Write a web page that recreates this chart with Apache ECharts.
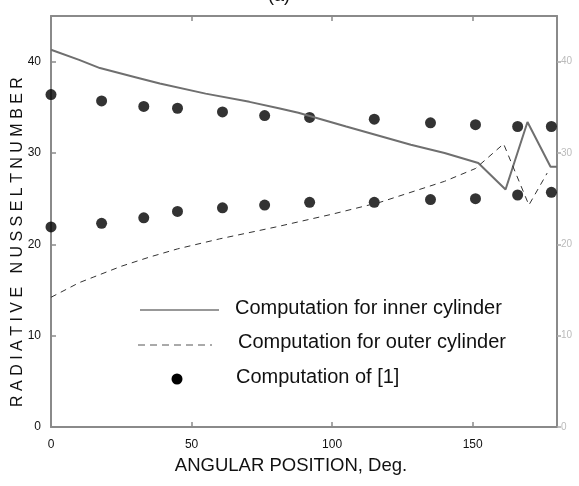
<!DOCTYPE html>
<html>
<head>
<meta charset="utf-8">
<script src="https://cdn.jsdelivr.net/npm/echarts@6/dist/echarts.min.js"></script>
<style>
  html, body { margin: 0; padding: 0; background: #fff; }
  #chart { width: 579px; height: 486px; }
</style>
</head>
<body>
<div id="chart"></div>
<script>
// Angular position (deg) and radiative Nusselt number values
const innerAngle = [0, 10, 17.4, 30, 38.7, 55, 70.6, 81, 88, 105, 128, 140, 152, 161.7, 169.5, 177.7, 180];
const innerNu    = [41.3, 40.2, 39.3, 38.3, 37.6, 36.5, 35.6, 34.9, 34.4, 32.9, 30.9, 30.0, 28.9, 26.0, 33.4, 28.5, 28.5];

const outerAngle = [0, 5, 10, 15, 25, 35, 45, 60, 80, 100, 117, 130, 140, 151, 161, 170, 176.5];
const outerNu    = [14.2, 15.0, 15.8, 16.4, 17.6, 18.6, 19.5, 20.6, 21.9, 23.3, 24.6, 25.9, 26.9, 28.3, 31.0, 24.3, 27.8];

const refAngle = [0, 18, 33, 45, 61, 76, 92, 115, 135, 151, 166, 178];
const refUpper = [36.4, 35.7, 35.1, 34.9, 34.5, 34.1, 33.9, 33.7, 33.3, 33.1, 32.9, 32.9];
const refLower = [21.9, 22.3, 22.9, 23.6, 24.0, 24.3, 24.6, 24.6, 24.9, 25.0, 25.4, 25.7];

const xTicks = [0, 50, 100, 150];
const yTicks = [0, 10, 20, 30, 40];

const legendInner = 'Computation for inner cylinder';
const legendOuter = 'Computation for outer cylinder';
const legendRef = 'Computation of [1]';
const xTitle = 'ANGULAR POSITION, Deg.';
const yTitle = 'RADIATIVE NUSSELTNUMBER';
const panelTitle = '(a)';

const pair = (xs, ys) => xs.map((x, i) => [x, ys[i]]);
const refData = pair(refAngle, refUpper).concat(pair(refAngle, refLower));

const FONT = 'Liberation Sans, Arial, sans-serif';
const AXIS_COLOR = '#8a8a8a';

const chart = echarts.init(document.getElementById('chart'), null, { renderer: 'canvas' });

const axisBase = {
  min: 0,
  axisLine: { show: true, onZero: false, lineStyle: { color: AXIS_COLOR, width: 2 } },
  axisTick: { show: true, inside: true, length: 5, lineStyle: { color: AXIS_COLOR, width: 1.5 } },
  splitLine: { show: false }
};

chart.setOption({
  animation: false,
  backgroundColor: '#fff',
  grid: { left: 51, right: 22, top: 16, bottom: 59 },
  xAxis: [
    Object.assign({}, axisBase, {
      type: 'value', position: 'bottom', max: 180, interval: 50,
      axisLabel: {
        showMaxLabel: false, margin: 12, fontSize: 12, fontFamily: FONT,
        color: v => (v === 0 ? '#999' : '#111'),
        formatter: v => (xTicks.indexOf(v) >= 0 ? String(v) : '')
      }
    }),
    Object.assign({}, axisBase, {
      type: 'value', position: 'top', max: 180, interval: 50,
      axisLabel: { show: false }
    })
  ],
  yAxis: [
    Object.assign({}, axisBase, {
      type: 'value', position: 'left', max: 45, interval: 10,
      axisLabel: {
        showMaxLabel: false, margin: 10, fontSize: 12, fontFamily: FONT, color: '#111',
        formatter: v => (yTicks.indexOf(v) >= 0 ? String(v) : '')
      }
    }),
    Object.assign({}, axisBase, {
      type: 'value', position: 'right', max: 45, interval: 10,
      axisTick: { show: true, inside: false, length: 4, lineStyle: { color: '#aaa', width: 1.5 } },
      axisLabel: {
        showMaxLabel: false, margin: 4, fontSize: 10, fontFamily: FONT, color: '#bbb',
        formatter: v => (yTicks.indexOf(v) >= 0 ? String(v) : '')
      }
    })
  ],
  graphic: [
    {
      type: 'text', left: 268, top: -13,
      style: { text: panelTitle, font: '18px ' + FONT, fill: '#111' }
    },
    // axis titles
    {
      type: 'text', x: 291, y: 466,
      style: { text: xTitle, font: '18.5px ' + FONT, fill: '#111', align: 'center', verticalAlign: 'middle' }
    },
    {
      type: 'text', x: 18, y: 242, rotation: Math.PI / 2,
      style: { text: yTitle.split('').join(' '), font: '16px ' + FONT, fill: '#111', align: 'center', verticalAlign: 'middle' }
    },
    // legend samples
    { type: 'line', shape: { x1: 140, y1: 310, x2: 219, y2: 310 }, style: { stroke: '#333', lineWidth: 1.2 } },
    { type: 'line', shape: { x1: 138, y1: 345, x2: 212, y2: 345 }, style: { stroke: '#555', lineWidth: 1, lineDash: [7, 5] } },
    { type: 'circle', shape: { cx: 177, cy: 379, r: 5.5 }, style: { fill: '#000' } },
    { type: 'text', left: 235, top: 298, style: { text: legendInner, font: '20px ' + FONT, fill: '#111' } },
    { type: 'text', left: 238, top: 332, style: { text: legendOuter, font: '20px ' + FONT, fill: '#111' } },
    { type: 'text', left: 236, top: 367, style: { text: legendRef, font: '20px ' + FONT, fill: '#111' } }
  ],
  series: [
    {
      name: legendInner, type: 'line', data: pair(innerAngle, innerNu),
      symbol: 'none', smooth: false, clip: false,
      lineStyle: { color: '#6f6f6f', width: 2 }
    },
    {
      name: legendOuter, type: 'line', data: pair(outerAngle, outerNu),
      symbol: 'none', smooth: false, clip: false,
      lineStyle: { color: '#333', width: 1, type: [6, 5] }
    },
    {
      name: legendRef, type: 'scatter', data: refData,
      symbol: 'circle', symbolSize: 11,
      itemStyle: { color: '#000' }
    }
  ]
});
</script>
</body>
</html>
